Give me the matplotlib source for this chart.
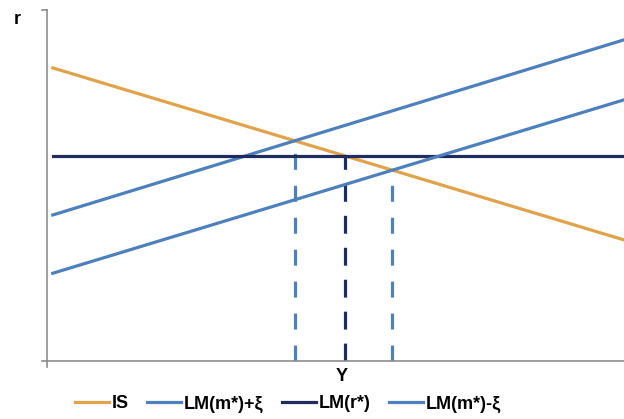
import numpy as np
import matplotlib
matplotlib.use('Agg')
import matplotlib.pyplot as plt
from matplotlib.lines import Line2D

# Data: line end points (Y at left/right edge, r values)
y_ends = [0.1, 10.0]
is_curve = [8.35, 3.45]
lm_plus = [4.16, 9.15]
lm_star = [5.84, 5.84]
lm_minus = [2.50, 7.44]
labels = ['IS', 'LM(m*)+ξ', 'LM(r*)', 'LM(m*)-ξ']

c_is = '#E0A24A'
c_lm = '#4D80BD'
c_star = '#1F2C5E'

plt.rcParams['font.family'] = ['Liberation Sans Narrow', 'Liberation Sans', 'DejaVu Sans']

fig = plt.figure(figsize=(6.24, 4.19), dpi=100)
W, H = 624, 419
ax = fig.add_axes([47 / W, (H - 361) / H, (624 - 47) / W, (361 - 10) / H])
ax.set_xlim(0, 10)
ax.set_ylim(0, 10)


def intersect(a, b):
    # intersection of two straight lines given by their end values
    x = np.array(y_ends)
    sa = (a[1] - a[0]) / (x[1] - x[0])
    sb = (b[1] - b[0]) / (x[1] - x[0])
    xi = x[0] + (b[0] - a[0]) / (sa - sb)
    return xi, a[0] + sa * (xi - x[0])


# dashed drop lines from the intersections
for other, col, dash in [(lm_plus, c_lm, (5, 5)), (lm_star, c_star, (5.6, 4.4)),
                         (lm_minus, c_lm, (5, 5))]:
    xi, yi = intersect(is_curve, other)
    ax.plot([xi, xi], [0, yi], color=col, lw=2.3, ls=(0, dash),
            solid_capstyle='butt', zorder=2)

lw = 2.3
ax.plot(y_ends, is_curve, color=c_is, lw=lw, zorder=3)
ax.plot(y_ends, lm_plus, color=c_lm, lw=lw, zorder=3)
ax.plot(y_ends, lm_star, color=c_star, lw=lw, zorder=3)
ax.plot(y_ends, lm_minus, color=c_lm, lw=lw, zorder=3)

# axes look
for s in ['top', 'right']:
    ax.spines[s].set_visible(False)
for s in ['left', 'bottom']:
    ax.spines[s].set_color('#8C8C8C')
    ax.spines[s].set_linewidth(1.2)
ax.set_xticks([])
ax.set_yticks([])
ax.plot([-0.09, 0], [10, 10], color='#8C8C8C', lw=1.2, clip_on=False)
ax.plot([-0.09, 0], [0, 0], color='#8C8C8C', lw=1.2, clip_on=False)
ax.plot([0, 0], [-0.17, 0], color='#8C8C8C', lw=1.2, clip_on=False)

fig.text(17 / W, 1 - 19 / H, 'r', fontsize=13, fontweight='bold', ha='center', va='center')
fig.text(342 / W, 1 - 376 / H, 'Y', fontsize=13, fontweight='bold', ha='center', va='center')

handles = [Line2D([], [], color=c, lw=lw) for c in [c_is, c_lm, c_star, c_lm]]
fig.legend(handles, labels, loc='center', bbox_to_anchor=(288 / W, 1 - 404 / H),
           ncol=4, frameon=False, handlelength=1.9, handletextpad=0.15,
           columnspacing=1.0, prop={'size': 13, 'weight': 'bold'})

fig.savefig('out.png', dpi=100)
